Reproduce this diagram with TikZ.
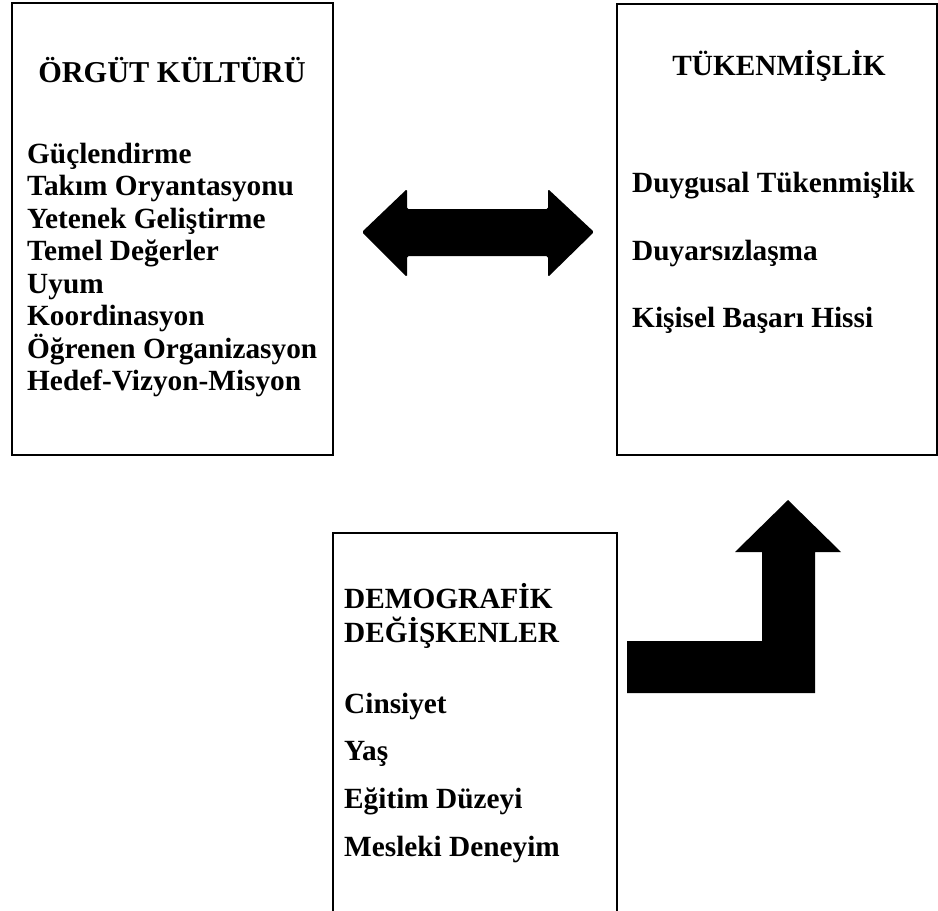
\documentclass[tikz,border=0pt]{standalone}
\usepackage{fontspec}
\setmainfont{Liberation Serif}
\begin{document}
\begin{tikzpicture}[x=1pt,y=-1pt,
  box/.style={draw, line width=2pt, inner sep=0pt, outer sep=0pt, anchor=north west},
  txt/.style={anchor=base west, inner sep=0pt, font=\bfseries\fontsize{29.3}{32}\selectfont},
  ttl/.style={anchor=base, inner sep=0pt, font=\bfseries\fontsize{29.3}{32}\selectfont},
  blockarrow/.style={fill=black, draw=none}]
\useasboundingbox (0,0) rectangle (938,911);
\clip (0,0) rectangle (938,911);
% boxes
\node[box, minimum width=321pt, minimum height=452pt] (culture) at (12,3) {};
\node[box, minimum width=320pt, minimum height=451pt] (burnout) at (617,4) {};
\node[box, minimum width=284pt, minimum height=420pt] (demo) at (333,533) {};
% left box text
\node[ttl, font=\bfseries\fontsize{30.3}{32}\selectfont] (t1) at (172,82) {ÖRGÜT KÜLTÜRÜ};
\node[txt] (a1) at (27,163) {Güçlendirme};
\node[txt] (a2) at (27,195.5) {Takım Oryantasyonu};
\node[txt] (a3) at (27,228) {Yetenek Geliştirme};
\node[txt] (a4) at (27,260.5) {Temel Değerler};
\node[txt] (a5) at (27,293) {Uyum};
\node[txt] (a6) at (27,325.5) {Koordinasyon};
\node[txt] (a7) at (27,358) {Öğrenen Organizasyon};
\node[txt] (a8) at (27,390.5) {Hedef-Vizyon-Misyon};
% right box text
\node[ttl] (t2) at (779,75) {TÜKENMİŞLİK};
\node[txt] (b1) at (632,192) {Duygusal Tükenmişlik};
\node[txt] (b2) at (632,260) {Duyarsızlaşma};
\node[txt] (b3) at (632,327) {Kişisel Başarı Hissi};
% bottom box text
\node[txt] (t3a) at (344,608) {DEMOGRAFİK};
\node[txt] (t3b) at (344,642) {DEĞİŞKENLER};
\node[txt] (c1) at (344,713) {Cinsiyet};
\node[txt] (c2) at (344,760) {Yaş};
\node[txt] (c3) at (344,808) {Eğitim Düzeyi};
\node[txt] (c4) at (344,856) {Mesleki Deneyim};
% double block arrow
\fill[blockarrow, rounded corners=1.5pt] (362,232) -- (407,189) -- (407,209) -- (548,209) -- (548,189) -- (594,232) -- (548,277) -- (548,256) -- (407,256) -- (407,277) -- cycle;
% bent block arrow
\fill[blockarrow] (627,641) -- (762,641) -- (762,552) -- (735,552) -- (788,500) -- (841,552) -- (815,552) -- (815,693) -- (627,693) -- cycle;
\end{tikzpicture}
\end{document}
